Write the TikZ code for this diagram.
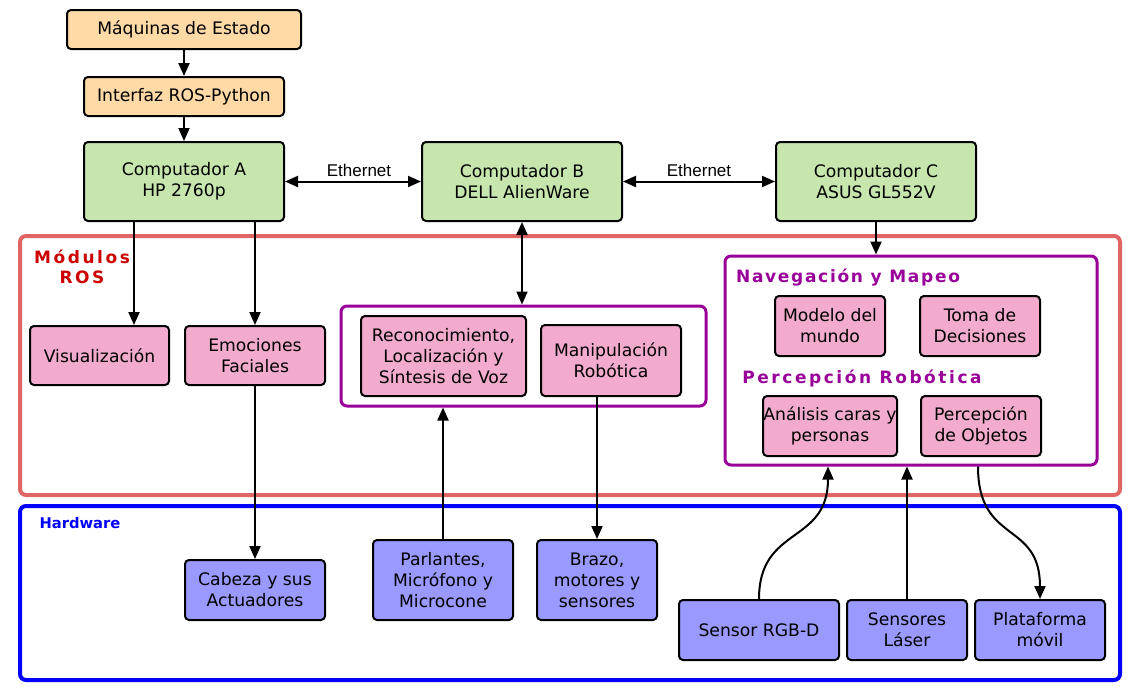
\documentclass[tikz,border=0pt]{standalone}
\usepackage{fontspec}
\setmainfont{DejaVu Sans}
\newfontfamily\spacedfont[LetterSpace=10]{DejaVu Sans}
\newfontfamily\widefont[LetterSpace=15]{DejaVu Sans}
\newfontfamily\ethfont{Liberation Sans}
\usetikzlibrary{arrows.meta}

\definecolor{peach}{HTML}{FFDAA6}
\definecolor{leaf}{HTML}{C6E6AE}
\definecolor{rose}{HTML}{F2ABCD}
\definecolor{lav}{HTML}{9999FF}
\definecolor{plum}{HTML}{990099}
\definecolor{salmon}{HTML}{E06666}
\definecolor{crimson}{HTML}{CC0000}

\tikzset{
  box/.style={draw=black, line width=2pt, rounded corners=4pt, align=center,
    inner sep=0pt, font=\fontsize{17.2}{21}\selectfont},
  peachbox/.style={box, fill=peach},
  pcbox/.style={box, fill=leaf, minimum width=200pt, minimum height=79pt},
  modbox/.style={box, fill=rose},
  hwbox/.style={box, fill=lav},
  frame/.style={line width=#1, rounded corners=6pt, inner sep=0pt},
  grouplbl/.style={text=plum},
  arr/.style={line width=2pt, -{Triangle[length=13pt,width=11pt]}},
  arrboth/.style={line width=2pt, {Triangle[length=13pt,width=11pt]}-{Triangle[length=13pt,width=11pt]}},
}

\begin{document}
\begin{tikzpicture}[x=1pt, y=-1pt]
\useasboundingbox (0,0) rectangle (1133,699);

% outer regions
\node[frame=4pt, draw=salmon, minimum width=1100pt, minimum height=259pt] (ros) at (570,365.5) {};
\node[frame=4pt, draw=blue, minimum width=1100pt, minimum height=174pt] (hw) at (570,593) {};
\node[align=center, font=\widefont\bfseries\fontsize{17}{20}\selectfont, text=crimson] (roslbl) at (82,267) {Módulos\\ROS};
\node[font=\bfseries\fontsize{14.7}{17}\selectfont, text=blue] (hwlbl) at (80,523) {Hardware};

% module groups
\node[frame=3pt, draw=plum, minimum width=365pt, minimum height=100pt] (g1) at (523.5,356) {};
\node[frame=3pt, draw=plum, minimum width=372pt, minimum height=209pt] (g2) at (911,360.5) {};
\node[grouplbl, font=\spacedfont\bfseries\fontsize{17}{20}\selectfont] (navlbl) at (848,278) {Navegación y Mapeo};
\node[grouplbl, font=\widefont\bfseries\fontsize{17}{20}\selectfont] (perlbl) at (862,378) {Percepción Robótica};

% top chain
\node[peachbox, minimum width=234pt, minimum height=39pt] (fsm) at (184,29.5) {Máquinas de Estado};
\node[peachbox, minimum width=200pt, minimum height=39pt] (iface) at (184,96.5) {Interfaz ROS-Python};

% computers
\node[pcbox] (pca) at (184,181.5) {Computador A\\HP 2760p};
\node[pcbox] (pcb) at (522,181.5) {Computador B\\DELL AlienWare};
\node[pcbox] (pcc) at (876,181.5) {Computador C\\ASUS GL552V};
\node[font=\ethfont\fontsize{17}{20}\selectfont] (eth1) at (359,170) {Ethernet};
\node[font=\ethfont\fontsize{17}{20}\selectfont] (eth2) at (699,170) {Ethernet};

% ROS modules
\node[modbox, minimum width=139pt, minimum height=59pt] (vis) at (99.5,355.5) {Visualización};
\node[modbox, minimum width=140pt, minimum height=59pt] (emo) at (255,355.5) {Emociones\\Faciales};
\node[modbox, minimum width=165pt, minimum height=80pt] (voz) at (443.5,356) {Reconocimiento,\\Localización y\\Síntesis de Voz};
\node[modbox, minimum width=140pt, minimum height=71pt] (manip) at (611,360.5) {Manipulación\\Robótica};
\node[modbox, minimum width=110pt, minimum height=60pt] (mundo) at (830,326) {Modelo del\\mundo};
\node[modbox, minimum width=120pt, minimum height=60pt] (toma) at (980,326) {Toma de\\Decisiones};
\node[modbox, minimum width=134pt, minimum height=60pt] (caras) at (830,426) {Análisis caras y\\personas};
\node[modbox, minimum width=120pt, minimum height=60pt] (objs) at (981,426) {Percepción\\de Objetos};

% hardware
\node[hwbox, minimum width=140pt, minimum height=60pt] (cab) at (255,590) {Cabeza y sus\\Actuadores};
\node[hwbox, minimum width=140pt, minimum height=80pt] (parl) at (443,580) {Parlantes,\\Micrófono y\\Microcone};
\node[hwbox, minimum width=120pt, minimum height=80pt] (brazo) at (597,580) {Brazo,\\motores y\\sensores};
\node[hwbox, minimum width=160pt, minimum height=60pt] (rgbd) at (759,630) {Sensor RGB-D};
\node[hwbox, minimum width=120pt, minimum height=60pt] (laser) at (907,630) {Sensores\\Láser};
\node[hwbox, minimum width=130pt, minimum height=60pt] (plat) at (1040,630) {Plataforma\\móvil};

% connectors
\draw[arr] (fsm) -- (iface);
\draw[arr] (iface) -- (pca);
\draw[arrboth] (pca) -- (pcb);
\draw[arrboth] (pcb) -- (pcc);
\draw[arr] (pca.south -| 134,0) -- (vis.north -| 134,0);
\draw[arr] (pca.south -| emo.north) -- (emo.north);
\draw[arrboth] (pcb.south) -- (pcb.south |- g1.north);
\draw[arr] (pcc.south) -- (pcc.south |- g2.north);
\draw[arr] (emo.south) -- (cab.north);
\draw[arr] (parl.north) -- (parl.north |- g1.south);
\draw[arr] (manip.south -| brazo.north) -- (brazo.north);
\coordinate (g2in) at (g2.south -| 828,0);
\coordinate (g2out) at (g2.south -| 978,0);
\draw[arr] (rgbd.north) .. controls (759,525) and (828,545) .. (g2in);
\draw[arr] (laser.north) -- (laser.north |- g2.south);
\draw[arr] (g2out) .. controls (978,545) and (1040,520) .. (plat.north);
\end{tikzpicture}
\end{document}
